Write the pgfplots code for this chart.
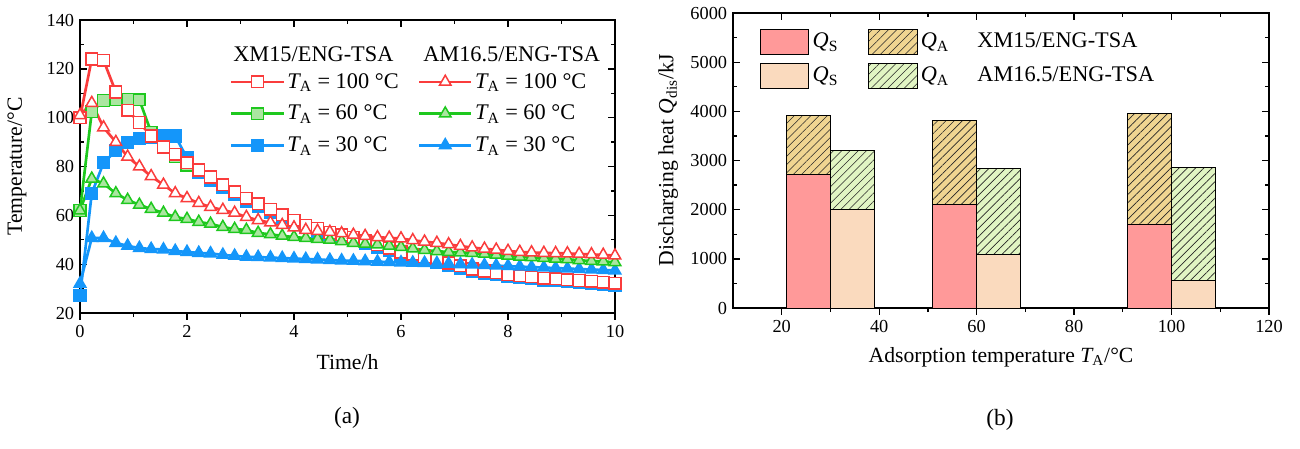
\documentclass[border=0pt]{standalone}
\usepackage{fontspec}
\setmainfont{Liberation Serif}
\usepackage{pgfplots}
\usepackage{pgfplotstable}
\pgfplotsset{compat=1.18}
\usetikzlibrary{patterns.meta}

\definecolor{cred}{RGB}{250,60,60}
\definecolor{cgreen}{RGB}{30,200,30}
\definecolor{cblue}{RGB}{20,150,250}
\definecolor{lgreen}{RGB}{170,230,160}
\definecolor{qsxm}{RGB}{255,153,153}
\definecolor{qsam}{RGB}{250,218,190}
\definecolor{qaxm}{RGB}{240,213,145}
\definecolor{qaam}{RGB}{225,245,195}

% temperature histories, t in h
\pgfplotstableread{
t xmC xmB xmA amC amB amA
0.00 100 62 27 101 62 32
0.22 124 102.4 69 106 75 50.7
0.44 123.5 107 81.5 96 73 50.7
0.67 110.5 107.3 86.4 90 69 48.7
0.89 103 107.6 89.7 84 66.3 47.5
1.11 98 107.3 91.3 80 64.3 46.6
1.33 92.5 94 92.1 76 62.6 46.2
1.56 88 88 92.5 72.5 61 46
1.78 85 84 92.5 69 59.3 45.4
2.00 81.5 80.6 83.5 67 58.5 45
2.22 78.6 77.7 77.5 65 57.3 44.6
2.44 75.7 74.8 74.5 63.4 56.5 44.4
2.67 72.5 71.7 71.4 62.2 55.2 43.8
2.89 69.6 68.8 68.5 61 54.4 43.4
3.11 67 66.2 65.9 59.3 54 43
3.33 64.8 64 63.7 58 52.8 42.9
3.56 62.5 61.7 61.4 57 52.2 42.7
3.78 60.2 59.4 59.1 56 51.6 42.5
4.00 58 57.3 57 55 51.1 42.3
4.22 56 55.3 55 54 50.7 42.1
4.44 54.6 53.8 53.5 53.6 50.3 41.9
4.67 53 52.3 52 53.2 50 41.7
4.89 52 51.2 50.9 52.6 49.4 41.5
5.11 51 50.2 49.9 52 48.7 41.4
5.33 49.6 48.8 48.5 51.5 48.3 41.2
5.56 48 47.2 46.9 51 48 41
5.78 46.5 45.8 45.5 50.8 47.5 40.9
6.00 45 44.3 44 50.5 47 40.7
6.22 44 43.3 43 49.8 46.4 40.6
6.44 43 42.3 42 49.2 45.8 40.5
6.67 41.7 41 40.8 48.7 45.3 40.4
6.89 40.5 39.8 39.6 48.1 45 40.2
7.11 39.3 38.6 38.4 47.4 44.8 40
7.33 38 37.4 37.2 46.8 44.6 39.8
7.56 37.2 36.6 36.4 46.3 44.2 39.6
7.78 36.5 35.9 35.7 45.9 43.8 39.4
8.00 35.8 35.2 35 45.4 43.4 39.2
8.22 35.2 34.6 34.4 45 43 39
8.44 34.8 34.2 34 44.8 42.8 38.8
8.67 34.3 33.7 33.5 44.6 42.5 38.6
8.89 34 33.4 33.2 44.5 42.2 38.4
9.11 33.6 33 32.8 44.4 42 38.2
9.33 33.3 32.7 32.5 44.2 41.6 38
9.56 33 32.4 32.2 44 41.3 37.8
9.78 32.6 32.1 31.9 43.8 41.1 37.6
10.00 32.2 31.7 31.5 43.5 40.8 37.4
}\temps

% discharging heat, bars 9 wide left/right of T_A
\pgfplotstableread{
x qs qa
25.5 2720 1190
55.5 2100 1710
95.5 1710 2240
}\xmtab
\pgfplotstableread{
x qs qa
34.5 2010 1200
64.5 1080 1750
104.5 560 2290
}\amtab

\pgfplotsset{
  every axis/.append style={
    scale only axis,
    tick label style={font=\fontsize{11}{13}\selectfont},
    label style={font=\fontsize{13}{15}\selectfont},
    legend style={font=\fontsize{13.4}{15}\selectfont},
    /pgf/number format/assume math mode=true,
    /pgf/number format/1000 sep={},
    axis line style={line width=0.8pt},
    every tick/.style={black, line width=0.8pt},
    major tick length=4pt,
    minor tick length=2.5pt,
  },
  hatchA/.style={postaction={pattern color=black!85, pattern={Lines[angle=45,distance=3.5pt,line width=0.4pt]}}},
}

\begin{document}
\begin{tikzpicture}
\useasboundingbox (0,0) rectangle (780pt,268.8pt);

% ---------- (a) ----------
\begin{axis}[
  at={(48pt,81pt)}, anchor=south west,
  width=321pt, height=175.8pt,
  xmin=0, xmax=10, ymin=20, ymax=140,
  xtick={0,2,...,10}, ytick={20,40,...,140},
  minor x tick num=1, minor y tick num=1,
  xtick pos=bottom, xtick align=outside,
  ytick pos=both, ytick align=inside,
  xlabel={Time/h}, ylabel={Temperature/°C},
  xlabel style={at={(axis description cs:0.5,-0.167)}, anchor=center},
  ylabel style={at={(axis description cs:-0.118,0.5)}, anchor=center},
  legend columns=2,
  legend style={at={(0.28,0.828)}, anchor=north west, draw=none, fill=none,
    inner sep=0pt, row sep=5.6pt, nodes={inner sep=1.5pt},
    /tikz/column 2/.style={column sep=10pt}},
  legend cell align=left,
  legend image code/.code={\draw[mark repeat=2, mark phase=2, #1]
    plot coordinates {(0cm,0cm) (0.55cm,0cm) (1.1cm,0cm)};},
  every axis plot/.append style={line width=1.6pt},
]
\addplot[forget plot, cgreen, mark=square*, mark size=3.5pt, mark options={solid, fill=lgreen, line width=0.9pt}] table[x=t, y=xmB] {\temps};
\addplot[forget plot, cblue, mark=square*, mark size=3.5pt, mark options={solid, fill=cblue, line width=0.9pt}] table[x=t, y=xmA] {\temps};
\addplot[forget plot, cred, mark=square*, mark size=3.5pt, mark options={solid, fill=white, line width=0.9pt}] table[x=t, y=xmC] {\temps};
\addplot[forget plot, cblue, mark=triangle*, mark size=4pt, mark options={solid, fill=cblue, line width=0.9pt}] table[x=t, y=amA] {\temps};
\addplot[forget plot, cgreen, mark=triangle*, mark size=4pt, mark options={solid, fill=lgreen, line width=0.9pt}] table[x=t, y=amB] {\temps};
\addplot[forget plot, cred, mark=triangle*, mark size=4pt, mark options={solid, fill=white, line width=0.9pt}] table[x=t, y=amC] {\temps};

\addlegendimage{cred, line width=1.6pt, mark=square*, mark size=3.5pt, mark options={fill=white, line width=0.9pt}}
\addlegendentry{{\itshape T}\textsubscript{A} = 100 °C}
\addlegendimage{cred, line width=1.6pt, mark=triangle*, mark size=4pt, mark options={fill=white, line width=0.9pt}}
\addlegendentry{{\itshape T}\textsubscript{A} = 100 °C}
\addlegendimage{cgreen, line width=1.6pt, mark=square*, mark size=3.5pt, mark options={fill=lgreen, line width=0.9pt}}
\addlegendentry{{\itshape T}\textsubscript{A} = 60 °C}
\addlegendimage{cgreen, line width=1.6pt, mark=triangle*, mark size=4pt, mark options={fill=lgreen, line width=0.9pt}}
\addlegendentry{{\itshape T}\textsubscript{A} = 60 °C}
\addlegendimage{cblue, line width=1.6pt, mark=square*, mark size=3.5pt, mark options={fill=cblue, line width=0.9pt}}
\addlegendentry{{\itshape T}\textsubscript{A} = 30 °C}
\addlegendimage{cblue, line width=1.6pt, mark=triangle*, mark size=4pt, mark options={fill=cblue, line width=0.9pt}}
\addlegendentry{{\itshape T}\textsubscript{A} = 30 °C}

\node[anchor=west, font=\fontsize{13.4}{15}\selectfont, inner sep=0pt] at (axis description cs:0.286,0.884) {XM15/ENG-TSA};
\node[anchor=west, font=\fontsize{13.4}{15}\selectfont, inner sep=0pt] at (axis description cs:0.641,0.884) {AM16.5/ENG-TSA};
\end{axis}
% top ticks pointing inward
\begin{axis}[
  at={(48pt,81pt)}, anchor=south west,
  width=321pt, height=175.8pt,
  xmin=0, xmax=10, ymin=20, ymax=140,
  axis x line*=top, axis y line=none,
  xtick={0,2,...,10}, minor x tick num=1,
  xtick align=inside, xticklabels={},
]
\end{axis}

% ---------- (b) ----------
\begin{axis}[
  at={(439.8pt,84pt)}, anchor=south west,
  width=321.6pt, height=177pt,
  xmin=10, xmax=120, ymin=0, ymax=6000,
  xtick={20,40,...,120}, ytick={0,1000,...,6000},
  minor x tick num=1, minor y tick num=1,
  xtick pos=bottom, xtick align=outside,
  ytick pos=both, ytick align=inside,
  xlabel={Adsorption temperature {\itshape T}\textsubscript{A}/°C},
  ylabel={Discharging heat {\itshape Q}\textsubscript{dis}/kJ},
  xlabel style={at={(axis description cs:0.5,-0.166)}, anchor=center},
  ylabel style={at={(axis description cs:-0.121,0.5)}, anchor=center},
  legend columns=3,
  legend style={at={(0.05,0.948)}, anchor=north west, draw=none, fill=none,
    inner sep=0pt, row sep=5pt, nodes={inner sep=2pt},
    /tikz/column 2/.style={column sep=16pt},
    /tikz/column 4/.style={column sep=13pt}},
  legend cell align=left,
  legend image code/.code={\draw[#1] (0pt,-7.5pt) rectangle (29pt,7.5pt);},
]
\addplot[forget plot, ybar, bar width=9, bar shift=0pt, draw=black, line width=0.5pt, fill=qaxm, hatchA]
  table[x=x, y expr=\thisrow{qs}+\thisrow{qa}] {\xmtab};
\addplot[forget plot, ybar, bar width=9, bar shift=0pt, draw=black, line width=0.5pt, fill=qsxm]
  table[x=x, y=qs] {\xmtab};
\addplot[forget plot, ybar, bar width=9, bar shift=0pt, draw=black, line width=0.5pt, fill=qaam, hatchA]
  table[x=x, y expr=\thisrow{qs}+\thisrow{qa}] {\amtab};
\addplot[forget plot, ybar, bar width=9, bar shift=0pt, draw=black, line width=0.5pt, fill=qsam]
  table[x=x, y=qs] {\amtab};

\addlegendimage{draw=black, line width=0.5pt, fill=qsxm}
\addlegendentry{{\itshape Q}\textsubscript{S}}
\addlegendimage{draw=black, line width=0.5pt, fill=qaxm, hatchA}
\addlegendentry{{\itshape Q}\textsubscript{A}}
\addlegendimage{empty legend}
\addlegendentry{XM15/ENG-TSA}
\addlegendimage{draw=black, line width=0.5pt, fill=qsam}
\addlegendentry{{\itshape Q}\textsubscript{S}}
\addlegendimage{draw=black, line width=0.5pt, fill=qaam, hatchA}
\addlegendentry{{\itshape Q}\textsubscript{A}}
\addlegendimage{empty legend}
\addlegendentry{AM16.5/ENG-TSA}
\end{axis}
\begin{axis}[
  at={(439.8pt,84pt)}, anchor=south west,
  width=321.6pt, height=177pt,
  xmin=10, xmax=120, ymin=0, ymax=6000,
  axis x line*=top, axis y line=none,
  xtick={20,40,...,120}, minor x tick num=1,
  xtick align=inside, xticklabels={},
]
\end{axis}

\node[font=\fontsize{14}{16}\selectfont] at (208.2pt,18pt) {(a)};
\node[font=\fontsize{14}{16}\selectfont] at (600pt,16.8pt) {(b)};
\end{tikzpicture}
\end{document}
